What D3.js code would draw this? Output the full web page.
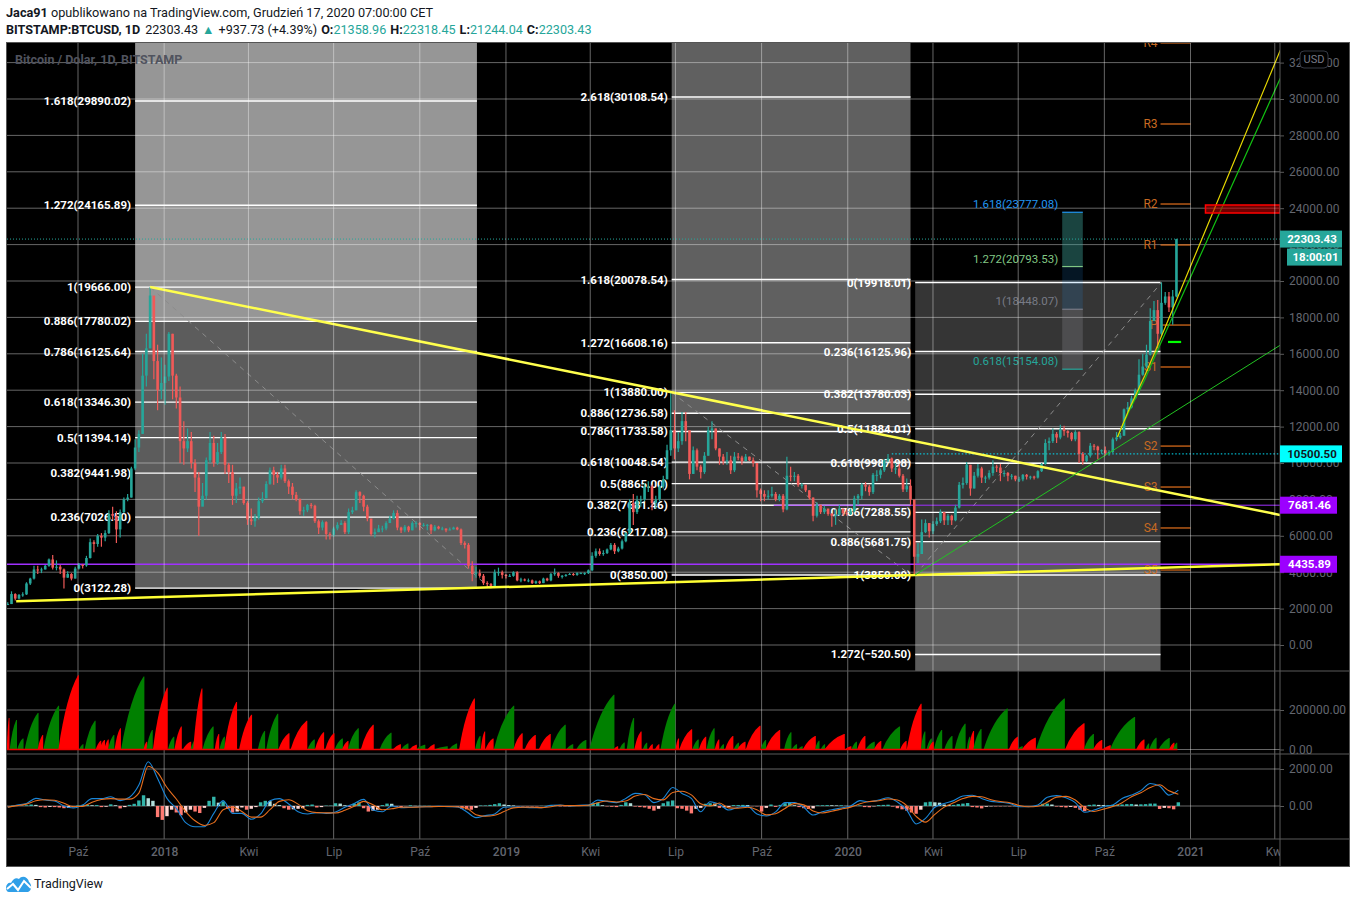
<!DOCTYPE html>
<html>
<head>
<meta charset="utf-8">
<script src="https://d3js.org/d3.v7.min.js"></script>
<style>
  body { margin: 0; background: #fff; }
  svg { display: block; font-family: Roboto, sans-serif; }
</style>
</head>
<body>
<script>
// daily candles sampled every 4 days from 18 Jul 2017, values in thousands of USD
var candleStart = "2017-07-18", candleStep = 4;
var closes = [
2.25,2.80,2.55,2.75,2.78,3.38,3.65,4.15,4.10,4.15,
4.35,4.70,4.25,4.30,4.15,3.70,3.90,3.65,4.20,4.40,
4.37,4.78,5.65,5.55,6.00,5.90,6.15,7.20,7.10,6.35,
7.30,8.00,8.10,9.70,10.85,11.60,14.80,16.30,19.20,15.60,
14.00,14.40,14.75,17.10,14.80,13.60,11.20,10.80,11.20,10.00,
9.20,7.60,8.20,10.15,11.10,10.00,10.60,11.40,9.90,9.50,
8.20,8.60,8.70,7.80,6.90,6.80,7.00,7.90,8.05,8.85,
9.60,9.35,9.20,9.70,9.00,8.70,8.25,8.00,7.35,7.40,
7.70,7.65,6.80,6.45,6.75,6.10,6.05,6.40,6.60,6.70,
6.20,7.30,7.40,8.40,8.20,7.60,6.95,6.10,6.20,6.40,
6.40,6.70,6.95,7.25,6.45,6.30,6.50,6.30,6.70,6.70,
6.60,6.60,6.60,6.30,6.50,6.40,6.40,6.30,6.35,6.45,
6.35,5.60,5.50,4.35,3.90,3.95,3.80,3.40,3.35,3.20,
4.00,4.00,3.85,3.80,3.80,4.00,3.55,3.60,3.55,3.55,
3.40,3.50,3.40,3.65,3.55,3.90,3.95,3.80,3.80,3.85,
3.90,3.85,3.95,3.95,3.95,4.10,4.90,5.15,5.00,5.05,
5.25,5.50,5.15,5.30,5.70,6.15,7.80,7.30,7.95,8.00,
8.70,8.70,7.80,8.00,8.70,9.10,10.70,11.80,10.80,11.20,
12.30,11.80,9.40,10.70,9.80,9.50,10.40,11.80,11.90,10.80,
10.35,10.10,10.15,9.60,10.35,10.30,10.10,10.35,10.15,10.00,
8.50,8.30,8.15,8.20,8.30,8.00,8.20,7.45,9.30,9.25,
9.30,8.80,8.80,8.50,8.10,7.10,7.70,7.30,7.50,7.20,
7.10,7.15,7.50,7.25,7.20,7.35,8.05,8.20,8.80,8.70,
8.40,9.35,9.35,9.60,10.15,10.25,9.70,9.70,9.30,8.55,
8.75,8.00,4.85,5.00,6.20,6.70,6.25,6.65,6.80,7.30,
6.85,7.10,6.85,7.55,8.80,8.90,9.90,8.60,9.30,9.70,
9.20,9.20,9.45,9.80,9.75,9.45,9.45,9.30,9.30,9.10,
9.10,9.35,9.25,9.25,9.20,9.55,9.95,11.10,11.20,11.60,
11.40,11.85,11.75,11.65,11.30,11.70,10.50,10.10,10.40,10.95,
10.90,10.70,10.70,10.55,10.60,11.30,11.40,11.50,12.95,13.05,
13.55,14.00,14.85,15.30,15.95,17.80,18.40,17.10,18.80,19.15,
18.55,19.15,22.30];
var highs = [
2.35,2.95,2.85,2.80,2.90,3.45,3.70,4.35,4.35,4.25,
4.40,4.75,4.95,4.65,4.40,4.20,4.05,3.95,4.30,4.50,
4.45,4.90,5.85,5.75,6.10,6.15,6.30,7.40,7.60,7.35,
7.45,8.10,8.30,9.80,11.30,11.80,16.00,17.10,19.67,18.40,
16.50,15.80,15.40,17.20,17.10,14.90,14.20,12.30,11.90,11.70,
10.20,9.50,8.90,10.30,11.70,11.50,11.10,11.70,11.60,10.00,
9.90,8.90,9.20,8.70,7.90,7.50,7.20,8.10,8.40,9.00,
9.75,9.80,9.50,9.90,9.90,9.10,8.90,8.40,8.05,7.60,
7.75,7.80,7.70,6.90,6.85,6.80,6.20,6.50,6.75,6.85,
6.80,7.50,7.60,8.50,8.45,8.25,7.70,6.80,6.40,6.60,
6.55,6.80,7.10,7.40,7.40,6.50,6.60,6.55,6.80,6.80,
6.75,6.70,6.65,6.65,6.60,6.55,6.50,6.40,6.45,6.50,
6.50,6.40,5.70,5.60,4.60,4.30,4.15,3.90,3.50,3.40,
4.15,4.25,4.10,3.90,3.90,4.05,4.05,3.70,3.65,3.65,
3.60,3.55,3.55,3.70,3.70,3.95,4.20,4.00,3.85,3.90,
3.95,3.95,4.00,4.00,4.00,4.15,5.10,5.30,5.30,5.20,
5.30,5.60,5.60,5.40,5.80,6.20,8.00,8.30,8.20,8.20,
8.90,9.00,8.80,8.20,8.80,9.30,11.00,13.88,12.90,11.70,
12.80,12.80,11.60,10.90,10.80,9.90,10.60,12.00,12.30,11.90,
10.80,10.50,10.60,10.40,10.60,10.55,10.40,10.50,10.35,10.30,
10.00,8.60,8.50,8.50,8.70,8.40,8.30,8.30,10.35,9.80,
9.50,9.40,8.90,8.80,8.50,8.10,7.85,7.70,7.65,7.40,
7.25,7.45,7.70,7.40,7.40,7.50,8.20,8.30,8.90,8.95,
8.80,9.45,9.60,9.70,10.20,10.50,10.30,10.00,9.95,9.40,
9.15,9.10,7.95,5.60,6.90,6.90,6.70,6.80,7.00,7.45,
7.30,7.20,7.15,7.70,8.95,9.20,10.05,9.90,9.50,9.95,
9.80,9.30,9.60,10.15,9.90,9.95,9.60,9.50,9.40,9.30,
9.25,9.40,9.40,9.30,9.30,9.60,10.00,11.30,11.40,11.90,
11.70,12.10,12.05,11.80,11.70,11.80,11.75,10.60,10.45,11.10,
11.05,10.95,10.75,10.90,10.70,11.40,11.70,11.65,13.00,13.35,
13.70,14.10,15.70,16.00,16.50,18.50,18.90,18.95,19.92,19.40,
19.40,19.50,22.32];
var lows = [
2.20,2.25,2.45,2.50,2.65,2.75,3.30,3.60,3.90,3.95,
4.15,4.30,4.15,4.10,3.90,3.10,3.70,3.55,3.65,4.15,
4.20,4.30,4.75,5.10,5.40,5.40,5.70,6.10,6.90,5.60,
5.90,7.25,7.90,8.10,9.60,10.60,11.60,14.20,16.30,14.60,
12.90,13.50,13.20,14.50,13.50,13.00,10.00,9.90,10.60,9.70,
8.40,6.00,7.70,8.00,10.00,9.80,9.90,10.50,9.40,8.90,
7.70,7.80,8.30,7.70,6.60,6.60,6.50,6.90,7.80,8.20,
8.80,8.80,8.90,9.10,8.90,8.30,8.00,7.90,7.15,7.10,
7.30,7.50,6.70,6.10,6.30,5.80,5.80,5.95,6.30,6.60,
6.10,6.10,7.20,7.40,7.80,7.35,6.80,6.00,5.90,6.20,
6.20,6.30,6.70,6.90,6.30,6.15,6.20,6.20,6.30,6.45,
6.30,6.50,6.30,6.10,6.25,6.35,6.30,6.20,6.30,6.35,
6.30,5.50,5.30,4.20,3.50,3.70,3.70,3.30,3.20,3.12,
3.20,3.80,3.65,3.65,3.75,3.75,3.50,3.45,3.50,3.45,
3.35,3.35,3.35,3.40,3.50,3.50,3.80,3.70,3.65,3.75,
3.85,3.80,3.80,3.90,3.85,3.90,4.05,4.80,4.90,4.90,
5.00,5.20,5.00,5.10,5.25,5.65,6.10,6.60,7.20,7.60,
7.90,8.40,7.40,7.50,7.90,8.60,9.20,10.40,10.20,10.60,
11.00,11.20,9.10,9.40,9.60,9.15,9.40,10.40,11.30,10.70,
9.90,9.90,9.90,9.40,9.50,10.15,9.90,10.10,10.10,9.80,
8.10,7.90,7.90,8.00,8.10,7.90,7.90,7.30,7.40,9.00,
9.00,8.70,8.60,8.40,8.00,6.80,7.00,7.20,7.20,7.10,
6.50,6.60,7.10,7.10,7.10,7.15,7.30,7.70,8.00,8.45,
8.20,8.30,9.00,9.15,9.50,10.05,9.50,9.40,9.20,8.40,
8.40,7.70,3.85,4.50,5.00,6.15,5.90,6.10,6.55,6.70,
6.60,6.60,6.60,6.80,7.50,8.60,8.80,8.20,8.60,9.20,
8.90,8.90,9.10,9.30,9.50,9.00,9.25,9.00,9.10,9.00,
8.95,9.00,9.10,9.10,9.10,9.15,9.50,9.90,10.70,11.10,
11.10,11.30,11.50,11.40,11.20,11.20,10.00,9.90,10.05,10.30,
10.70,10.20,10.50,10.40,10.40,10.55,11.20,11.30,11.50,12.80,
13.00,13.50,13.80,14.80,15.20,15.90,17.80,16.30,17.00,18.70,
18.30,17.60,19.10];

// volume humps: first day, last day (days from 1 Oct 2017), peak in thousands, colour
var volOrigin = "2017-10-01";
var volFirst = [-76,-73,-65,-57,-43,-37,-21,1,7,19,23,28,32,39,46,70,73,80,96,103,112,120,123,133,146,151,156,172,192,201,214,227,245,253,264,274,282,288,302,322,336,345,354,361,373,380,396,407,424,430,435,444,465,477,492,505,521,532,546,572,578,586,594,603,609,616,622,638,642,656,663,671,680,685,691,700,704,713,729,734,754,762,769,774,787,793,797,819,826,832,841,850,859,878,885,900,906,908,914,925,936,949,951,956,967,994,1003,1008,1023,1054,1074,1084,1094,1102,1130,1140,1144,1154,1165,1169];
var volLast = [-74,-66,-59,-43,-38,-21,0,5,18,24,28,32,38,45,70,73,79,95,102,110,120,126,132,144,150,156,169,185,199,213,225,244,252,262,273,282,288,299,315,334,344,352,361,370,380,394,404,423,429,434,443,465,474,488,504,520,528,542,572,576,583,593,601,607,613,620,637,641,655,662,670,679,684,689,699,705,712,728,734,749,761,767,773,787,791,797,818,825,831,840,850,857,877,884,900,904,911,913,922,933,947,952,956,964,992,1003,1008,1022,1053,1074,1084,1093,1102,1128,1138,1143,1151,1165,1170,1173];
var volPeak = [159,150,56,185,73,222,376,27,145,44,48,51,73,108,369,39,99,313,65,116,39,56,309,116,79,65,241,176,94,181,82,145,51,87,82,56,43,108,125,85,27,31,24,24,27,17,31,258,68,91,56,222,82,73,79,125,27,48,277,17,36,159,91,34,27,27,232,56,103,51,65,108,51,27,68,34,39,120,48,99,87,27,17,68,44,27,79,17,39,68,39,43,116,43,232,91,56,39,99,68,130,65,94,104,207,65,17,60,258,133,79,48,22,164,51,31,60,58,34,34];
var volIsUp = [0,1,1,1,0,1,0,1,1,0,0,0,1,0,1,0,1,0,1,0,0,1,0,1,0,1,0,0,1,1,0,0,1,0,0,1,0,1,0,1,0,1,0,1,0,1,1,0,1,0,0,1,0,0,0,1,1,1,1,0,1,1,0,1,0,0,1,0,0,1,0,1,0,1,0,1,0,0,1,0,1,1,1,0,1,1,0,0,1,0,1,0,1,0,0,1,1,0,1,1,1,1,0,1,1,0,1,0,1,0,1,0,0,1,0,1,1,1,0,1];

// MACD, read every 10 days from day -75
var macdStart = -75, macdStep = 10;
var macdLine = [-70,50,140,410,320,270,0,-110,50,400,400,500,290,470,1130,2390,1490,410,-130,-900,-1120,-1120,-400,290,-400,-400,-720,-430,290,400,110,-310,-430,-360,-400,-320,-70,140,360,-220,-310,0,-90,-70,-40,-40,-20,-40,-50,-310,-630,-520,-430,-70,-50,-70,-90,-90,40,50,0,40,50,320,250,180,410,680,610,180,410,1000,680,410,-310,230,90,-220,-70,-20,-430,-540,-320,180,180,-70,-490,-310,-200,-110,0,290,230,320,450,220,-220,-970,-670,-70,140,290,540,580,410,250,200,140,-40,-40,50,470,560,450,180,-340,-220,-40,50,410,590,830,1220,1080,590,860];
var signalLine = [-60,20,100,280,340,310,150,-30,-20,200,350,400,370,370,700,2150,1800,1000,380,-300,-800,-1050,-900,-200,-50,-300,-600,-600,-200,250,340,100,-260,-360,-370,-380,-230,-20,250,70,-200,-150,-70,-70,-50,-40,-30,-30,-40,-120,-470,-550,-500,-300,-100,-70,-70,-90,-40,40,20,20,40,180,270,220,270,540,620,400,330,730,800,600,120,0,160,-100,-120,-70,-200,-480,-420,-130,130,60,-270,-380,-280,-170,-60,120,240,280,380,320,20,-560,-870,-450,-60,170,400,520,500,340,240,180,30,-40,-10,200,480,520,320,-100,-300,-170,-30,180,500,720,1000,1150,820,640];
var histStep = 5;
var histValues = [-10,20,30,20,40,80,60,-60,-80,-50,-60,-80,-120,-100,-70,30,60,70,40,50,-60,-40,90,40,-130,-60,60,120,300,580,420,280,-600,-750,-550,-200,-350,-500,-350,-200,-300,-380,-100,280,500,180,250,-150,-350,-300,-80,-200,-150,-60,200,280,260,120,50,-120,-200,-180,-150,-120,60,80,-80,-60,20,20,150,130,40,-50,130,200,-120,-300,-250,-200,50,130,120,-40,-60,-10,40,10,10,10,10,-10,-10,-10,-10,-10,-60,-150,-180,-200,-100,30,30,60,100,150,80,50,30,-20,-20,-20,-20,-20,10,10,50,40,-20,-20,-20,30,20,20,50,150,180,40,-20,-40,-60,60,200,150,-30,-60,-80,-150,-250,-150,150,250,300,-120,-150,-250,-400,-150,-100,120,150,130,-100,-80,-50,50,50,60,50,-10,-20,-300,-100,80,-50,60,150,170,40,-60,-120,-160,-130,30,40,50,40,30,40,10,-30,30,30,-60,-70,-20,50,60,70,-30,-120,-180,-250,-350,-420,-200,200,230,200,180,80,60,60,100,130,160,-60,-80,-130,-40,-20,-20,-20,-10,-20,-10,-10,-10,-20,-30,10,120,130,80,-30,-60,-80,-50,-100,-200,-280,60,80,60,50,50,60,70,80,100,110,80,90,100,130,130,-160,-100,-120,-180,200];

// price ticks and time ticks
var priceTicks = d3.range(0, 32001, 2000);
var timeTickDates = ["2017-10-01","2018-01-01","2018-04-01","2018-07-01","2018-10-01","2019-01-01","2019-04-01","2019-07-01","2019-10-01","2020-01-01","2020-04-01","2020-07-01","2020-10-01","2021-01-01","2021-04-01"];
var timeTickLabels = ["Paź","2018","Kwi","Lip","Paź","2019","Kwi","Lip","Paź","2020","Kwi","Lip","Paź","2021","Kwi"];

// fibonacci tools
var fib1Ratios = ["1.618","1.272","1","0.886","0.786","0.618","0.5","0.382","0.236","0"];
var fib1Prices = [29890.02,24165.89,19666,17780.02,16125.64,13346.30,11394.14,9441.98,7026.50,3122.28];
var fib2Ratios = ["2.618","1.618","1.272","1","0.886","0.786","0.618","0.5","0.382","0.236","0"];
var fib2Prices = [30108.54,20078.54,16608.16,13880,12736.58,11733.58,10048.54,8865,7681.46,6217.08,3850];
var fib3Ratios = ["0","0.236","0.382","0.5","0.618","0.786","0.886","1","1.272"];
var fib3Prices = [19918.01,16125.96,13780.03,11884.01,9987.98,7288.55,5681.75,3850,-520.50];

// fib extension block
var extRatios = ["1.618","1.272","1","0.618"];
var extPrices = [23777.08,20793.53,18448.07,15154.08];
var extColors = ["#2196f3","#81c784","#787b86","#26a69a"];
var extFills = ["rgba(64,170,160,0.4)","rgba(33,150,243,0.15)","rgba(150,152,160,0.25)"];

// pivots
var pivotNames = ["R4","R3","R2","R1","P","S1","S2","S3","S4","S5"];
var pivotPrices = [33080,28627,24230,21980,17580,15275,10930,8680,6430,4120];

// hand drawn trend lines as [date, price]
var trendFall = [["2017-12-17",19666],["2021-04-07",7143]];
var trendBase = [["2017-07-27",2400],["2021-04-07",4435]];
var trendYellow = [["2020-10-15",11430],["2020-10-28",13020],["2020-11-13",14780],["2020-11-24",16100],["2021-04-07",32690]];
var trendGreen = [["2020-10-15",11430],["2020-10-28",12910],["2020-11-13",14560],["2020-11-26",16100],["2021-04-07",31150]];
var trendGreenLong = [["2020-03-13",3850],["2021-04-07",16480]];
var fibDiagonals = [
  [["2017-12-17",19666],["2018-12-15",3122]],
  [["2019-06-27",13880],["2020-03-08",3850]],
  [["2020-03-13",3850],["2020-12-01",19918]]
];

// header values
var ohlcNames = ["O:","H:","L:","C:"];
var ohlcValues = ["21358.96","22318.45","21244.04","22303.43"];

var width = 1355, height = 902;
var paneLeft = 7, axisX = 1280, paneRight = 1349, topY = 43, mainBottom = 671, volBottom = 754, macdBottom = 839, frameBottom = 866;
var parse = d3.utcParse("%Y-%m-%d");
var teal = "#26a69a", coral = "#f05a58", gridColor = "rgba(255,255,255,0.4)", axisText = "#63666f";

var x = d3.scaleUtc().domain([parse("2017-10-01"), parse("2021-01-01")]).range([78, 1190.5]);
var y = d3.scaleLinear().domain([0, 30000]).range([645, 99]);
var yVol = d3.scaleLinear().domain([0, 200000]).range([749.5, 710]);
var yMacd = d3.scaleLinear().domain([0, 2000]).range([806, 769]);
var dayZero = parse(volOrigin);
function dayX(d) { return x(d3.utcDay.offset(dayZero, d)); }
function fmt(v) { return d3.format(".2f")(v).replace("-", "−"); }

var svg = d3.select("body").append("svg").attr("width", width).attr("height", height);

var defs = svg.append("defs");
function addClip(id, y0, y1) {
  defs.append("clipPath").attr("id", id).append("rect")
    .attr("x", paneLeft).attr("y", y0).attr("width", axisX - paneLeft).attr("height", y1 - y0);
}
addClip("mainClip", topY, mainBottom);
addClip("volClip", mainBottom, volBottom);
addClip("macdClip", volBottom, macdBottom);
addClip("timeClip", macdBottom, frameBottom);

svg.append("rect").attr("x", paneLeft - 0.5).attr("y", topY - 0.5).attr("width", paneRight - paneLeft + 1).attr("height", frameBottom - topY + 1)
  .attr("fill", "#000").attr("stroke", "#555");

var main = svg.append("g").attr("clip-path", "url(#mainClip)");

/* ---- fib shading, under the grid ---- */
function band(g, d0, d1, p0, p1, fill) {
  g.append("rect").attr("x", x(parse(d0))).attr("width", x(parse(d1)) - x(parse(d0)))
    .attr("y", y(p0)).attr("height", y(p1) - y(p0)).attr("fill", fill);
}
var paneTop = y.invert(topY), paneBottom = y.invert(mainBottom);
band(main, "2017-12-01", "2018-12-01", paneTop, 17780.02, "#969696");
band(main, "2017-12-01", "2018-12-01", 17780.02, 3122.28, "#5c5c5c");
band(main, "2019-06-27", "2020-03-08", paneTop, 12736.58, "#606060");
band(main, "2019-06-27", "2020-03-08", 12736.58, 3850, "#383838");
band(main, "2020-03-13", "2020-11-30", 19918.01, 5681.75, "#353535");
band(main, "2020-03-13", "2020-11-30", 5681.75, paneBottom, "#5c5c5c");

/* ---- grid ---- */
var gridTicks = timeTickDates.map(parse);
svg.append("g").selectAll("line").data(gridTicks).enter().append("line")
  .attr("x1", function(d) { return x(d); }).attr("x2", function(d) { return x(d); })
  .attr("y1", topY).attr("y2", macdBottom).attr("stroke", gridColor);
main.append("g").selectAll("line").data(priceTicks).enter().append("line")
  .attr("x1", paneLeft).attr("x2", axisX).attr("y1", function(d) { return y(d); }).attr("y2", function(d) { return y(d); })
  .attr("stroke", gridColor);

/* ---- fib levels and labels ---- */
function fibLevels(ratios, prices, d0, d1) {
  var g = main.append("g");
  prices.forEach(function(p, i) {
    g.append("line").attr("x1", x(parse(d0))).attr("x2", x(parse(d1))).attr("y1", y(p)).attr("y2", y(p))
      .attr("stroke", "#fff").attr("stroke-width", 1.4);
    g.append("text").attr("x", x(parse(d0)) - 4).attr("y", y(p)).attr("dy", "0.35em")
      .attr("text-anchor", "end").attr("fill", "#fff").attr("font-size", 11.5).attr("font-weight", 700)
      .text(ratios[i] + "(" + fmt(p) + ")");
  });
}
fibLevels(fib1Ratios, fib1Prices, "2017-12-01", "2018-12-01");
fibLevels(fib2Ratios, fib2Prices, "2019-06-27", "2020-03-08");
fibLevels(fib3Ratios, fib3Prices, "2020-03-13", "2020-11-30");

var lineGen = d3.line()
  .x(function(d) { return x(parse(d[0])); })
  .y(function(d) { return y(d[1]); });

fibDiagonals.forEach(function(d) {
  main.append("path").attr("d", lineGen(d)).attr("fill", "none").attr("stroke", "#8c8c8c")
    .attr("stroke-width", 1).attr("stroke-dasharray", "5 5");
});

/* ---- extension block ---- */
extFills.forEach(function(f, i) {
  main.append("rect").attr("x", dayX(1051)).attr("width", dayX(1073.5) - dayX(1051))
    .attr("y", y(extPrices[i])).attr("height", y(extPrices[i + 1]) - y(extPrices[i])).attr("fill", f);
});
extPrices.forEach(function(p, i) {
  main.append("line").attr("x1", dayX(1051)).attr("x2", dayX(1073.5)).attr("y1", y(p)).attr("y2", y(p))
    .attr("stroke", extColors[i]).attr("stroke-width", 1.2);
  main.append("text").attr("x", dayX(1051) - 4).attr("y", y(p) - 4)
    .attr("text-anchor", "end").attr("fill", extColors[i]).attr("font-size", 11.5)
    .text(extRatios[i] + "(" + fmt(p) + ")");
});

/* ---- pivots ---- */
pivotPrices.forEach(function(p, i) {
  main.append("line").attr("x1", x(parse("2020-11-30"))).attr("x2", x(parse("2021-01-01")))
    .attr("y1", y(p)).attr("y2", y(p)).attr("stroke", "#e4701c").attr("stroke-width", 1.2);
  main.append("text").attr("x", x(parse("2020-11-30")) - 3).attr("y", y(p)).attr("dy", "0.35em")
    .attr("text-anchor", "end").attr("fill", "#c86a22").attr("font-size", 12).text(pivotNames[i]);
});

/* ---- horizontal rays ---- */
function hRay(price, d0, color, w, dash) {
  main.append("line").attr("x1", d0 ? x(parse(d0)) : paneLeft).attr("x2", axisX).attr("y1", y(price)).attr("y2", y(price))
    .attr("stroke", color).attr("stroke-width", w).attr("stroke-dasharray", dash || null);
}
hRay(4435.89, null, "#a030ff", 1.4);
hRay(7681.46, "2019-10-14", "#a030ff", 1);
hRay(10500.50, "2020-02-17", "#00e5ff", 1, "1.5 2");
hRay(22303.43, null, teal, 1, "1 2");

/* ---- candles ---- */
var candleOrigin = parse(candleStart);
var candles = main.append("g");
closes.forEach(function(c, i) {
  var o = i ? closes[i - 1] : c;
  var d = d3.utcDay.offset(candleOrigin, i * candleStep);
  var col = c >= o ? teal : coral;
  var cx = x(d);
  candles.append("line").attr("x1", cx).attr("x2", cx).attr("y1", y(highs[i] * 1000)).attr("y2", y(lows[i] * 1000))
    .attr("stroke", col).attr("stroke-width", 1.2);
  candles.append("rect").attr("x", cx - 1.3).attr("width", 2.6)
    .attr("y", y(Math.max(o, c) * 1000)).attr("height", Math.max(1, Math.abs(y(o * 1000) - y(c * 1000))))
    .attr("fill", col);
});

/* ---- trend lines ---- */
main.append("path").attr("d", lineGen(trendFall)).attr("fill", "none").attr("stroke", "#ffff4d").attr("stroke-width", 2.5);
main.append("path").attr("d", lineGen(trendBase)).attr("fill", "none").attr("stroke", "#ffff33").attr("stroke-width", 2.5);
main.append("path").attr("d", lineGen(trendGreenLong)).attr("fill", "none").attr("stroke", "#22c322").attr("stroke-width", 1);
main.append("path").attr("d", lineGen(trendGreen)).attr("fill", "none").attr("stroke", "#12c012").attr("stroke-width", 1.2);
main.append("path").attr("d", lineGen(trendYellow)).attr("fill", "none").attr("stroke", "#e6d800").attr("stroke-width", 1.2);

// small green mark and red box
main.append("line").attr("x1", x(parse("2020-12-08"))).attr("x2", x(parse("2020-12-22")))
  .attr("y1", y(16650)).attr("y2", y(16650)).attr("stroke", "#00ff00").attr("stroke-width", 2.2);
main.append("rect").attr("x", x(parse("2021-01-17"))).attr("width", axisX - x(parse("2021-01-17")))
  .attr("y", y(24176)).attr("height", y(23736) - y(24176))
  .attr("fill", "rgba(200,0,0,0.55)").attr("stroke", "#ff0000").attr("stroke-width", 1.5);

/* ---- volume pane ---- */
var vol = svg.append("g").attr("clip-path", "url(#volClip)");
[0, 200000].forEach(function(v) {
  vol.append("line").attr("x1", paneLeft).attr("x2", axisX).attr("y1", yVol(v)).attr("y2", yVol(v)).attr("stroke", gridColor);
});
volPeak.forEach(function(p, i) {
  var x0 = dayX(volFirst[i]), x1 = dayX(volLast[i]), y0 = yVol(0), y1 = yVol(p * 1000);
  var path = d3.path();
  path.moveTo(x0, y0);
  path.quadraticCurveTo(x0 + (x1 - x0) * 0.4, y0 - (y0 - y1) * 0.72, x1, y1);
  path.lineTo(x1 + 0.8, y1);
  path.lineTo(x1 + 0.8, y0);
  path.closePath();
  vol.append("path").attr("d", path.toString()).attr("fill", volIsUp[i] ? "#008000" : "#ff0000");
});
vol.append("line").attr("x1", paneLeft).attr("x2", dayX(1174)).attr("y1", yVol(0)).attr("y2", yVol(0))
  .attr("stroke", "#f00000").attr("stroke-width", 1.5);

/* ---- macd pane ---- */
var macd = svg.append("g").attr("clip-path", "url(#macdClip)");
[0, 2000].forEach(function(v) {
  macd.append("line").attr("x1", paneLeft).attr("x2", axisX).attr("y1", yMacd(v)).attr("y2", yMacd(v)).attr("stroke", gridColor);
});
histValues.forEach(function(v, i) {
  var prev = i ? histValues[i - 1] : 0;
  var col = v >= 0 ? (v >= prev ? "#33b5aa" : "#b2dfdb") : (v <= prev ? "#ff7a72" : "#ffd5d2");
  var cx = dayX(macdStart + i * histStep);
  macd.append("rect").attr("x", cx - 1.7).attr("width", 3.4)
    .attr("y", Math.min(yMacd(v), yMacd(0))).attr("height", Math.abs(yMacd(v) - yMacd(0))).attr("fill", col);
});
var macdGen = d3.line()
  .x(function(d, i) { return dayX(macdStart + i * macdStep); })
  .y(function(d) { return yMacd(d); })
  .curve(d3.curveMonotoneX);
macd.append("path").attr("d", macdGen(macdLine)).attr("fill", "none").attr("stroke", "#1a86d8").attr("stroke-width", 1.1);
macd.append("path").attr("d", macdGen(signalLine)).attr("fill", "none").attr("stroke", "#e86f1e").attr("stroke-width", 1.1);

/* ---- pane separators ---- */
[mainBottom, volBottom, macdBottom].forEach(function(v) {
  svg.append("line").attr("x1", paneLeft).attr("x2", paneRight).attr("y1", v).attr("y2", v).attr("stroke", "#5a5a5a");
});
svg.append("line").attr("x1", axisX).attr("x2", axisX).attr("y1", topY).attr("y2", frameBottom).attr("stroke", "#5a5a5a");

/* ---- axes ---- */
function styleAxis(g) {
  g.select(".domain").remove();
  g.selectAll(".tick line").attr("stroke", "#5a5a5a");
  g.selectAll("text").attr("fill", axisText).attr("font-size", 12).attr("font-family", "Roboto, sans-serif");
}
var priceAxis = d3.axisRight(y).tickValues(priceTicks).tickSize(4).tickPadding(5).tickFormat(d3.format(".2f"));
svg.append("g").attr("transform", "translate(" + axisX + ",0)").call(priceAxis).call(styleAxis);
var volAxis = d3.axisRight(yVol).tickValues([0, 200000]).tickSize(4).tickPadding(5).tickFormat(d3.format(".2f"));
svg.append("g").attr("transform", "translate(" + axisX + ",0)").call(volAxis).call(styleAxis);
var macdAxis = d3.axisRight(yMacd).tickValues([0, 2000]).tickSize(4).tickPadding(5).tickFormat(d3.format(".2f"));
svg.append("g").attr("transform", "translate(" + axisX + ",0)").call(macdAxis).call(styleAxis);

var timeAxis = d3.axisBottom(x).tickValues(gridTicks).tickSize(0).tickPadding(8)
  .tickFormat(function(d, i) { return timeTickLabels[i]; });
svg.append("g").attr("clip-path", "url(#timeClip)")
  .append("g").attr("transform", "translate(0," + macdBottom + ")").call(timeAxis).call(styleAxis)
  .selectAll("text").attr("font-weight", function(d, i) { return /^20/.test(timeTickLabels[i]) ? 500 : 400; });

/* ---- price boxes ---- */
function priceBox(cy, x0, x1, bg, fg, label) {
  svg.append("rect").attr("x", x0).attr("y", cy - 8.5).attr("width", x1 - x0).attr("height", 17).attr("fill", bg);
  svg.append("text").attr("x", (x0 + x1) / 2 + 1).attr("y", cy).attr("dy", "0.35em")
    .attr("text-anchor", "middle").attr("fill", fg).attr("font-size", 11.5).attr("font-weight", 700).text(label);
}
priceBox(y(22303.43), axisX, 1342, teal, "#fff", "22303.43");
priceBox(y(22303.43) + 18, 1287, 1342, teal, "#fff", "18:00:01");
priceBox(y(10500.50), axisX, 1342, "#00ffff", "#131722", "10500.50");
priceBox(y(7681.46), axisX, 1337, "#9c00ff", "#fff", "7681.46");
priceBox(y(4435.89), axisX, 1337, "#9c00ff", "#fff", "4435.89");

/* ---- USD button ---- */
svg.append("rect").attr("x", 1300).attr("y", 51).attr("width", 28).attr("height", 17).attr("rx", 4)
  .attr("fill", "#000").attr("stroke", "#363a45");
svg.append("text").attr("x", 1314).attr("y", 59.5).attr("dy", "0.35em").attr("text-anchor", "middle")
  .attr("fill", "#787b86").attr("font-size", 11).text("USD");

/* ---- header ---- */
svg.append("text").attr("x", 15).attr("y", 64).attr("fill", "#50535e").attr("font-size", 12.5).attr("font-weight", 700)
  .text("Bitcoin / Dolar, 1D, BITSTAMP");

var line1 = svg.append("text").attr("x", 6).attr("y", 17).attr("fill", "#131722").attr("font-size", 12.7);
line1.append("tspan").attr("font-weight", 700).text("Jaca91");
line1.append("tspan").text(" opublikowano na TradingView.com, Grudzień 17, 2020 07:00:00 CET");

var line2 = svg.append("text").attr("x", 6).attr("y", 34).attr("fill", "#131722").attr("font-size", 12.6);
line2.append("tspan").attr("font-weight", 700).text("BITSTAMP:BTCUSD, 1D");
line2.append("tspan").attr("dx", 5).text("22303.43");
line2.append("tspan").attr("dx", 4).attr("fill", teal).text("▲");
line2.append("tspan").attr("dx", 4).text("+937.73 (+4.39%)");
ohlcNames.forEach(function(n, i) {
  line2.append("tspan").attr("dx", 4).attr("font-weight", 700).text(n);
  line2.append("tspan").attr("fill", teal).text(ohlcValues[i]);
});

/* ---- logo ---- */
var logo = svg.append("g").attr("transform", "translate(6,875)");
logo.append("path").attr("fill", "#2f9fe8")
  .attr("d", "M0 13 C0 9 3 7 5 8 C7 4 10 2 13 4 C16 0 22 2 23 7 C26 9 26 16 22 17 L3 17 C1 17 0 15 0 13 Z");
logo.append("path").attr("fill", "none").attr("stroke", "#fff").attr("stroke-width", 2)
  .attr("d", "M1 14 L7 9 L12 15 L18 6 L25 13");
svg.append("text").attr("x", 34).attr("y", 888).attr("fill", "#131722").attr("font-size", 12.5).text("TradingView");
</script>
</body>
</html>
